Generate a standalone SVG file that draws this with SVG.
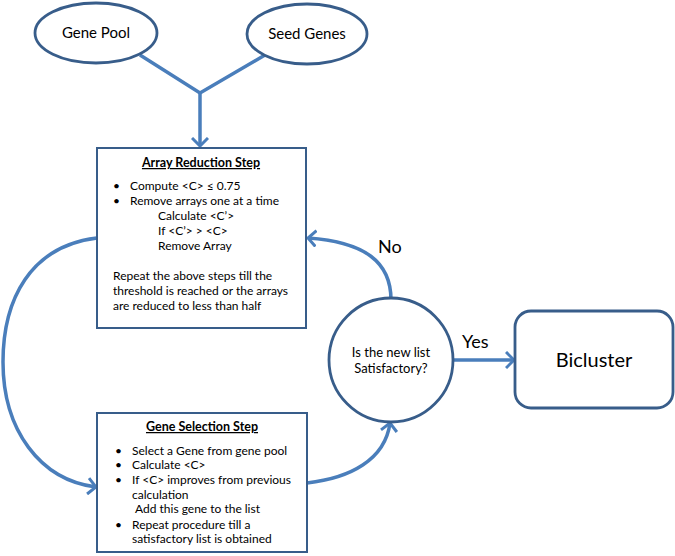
<svg xmlns="http://www.w3.org/2000/svg" width="675" height="556" viewBox="0 0 675 556">
<style>
.shape{fill:#fff;stroke:#385d8a;stroke-width:2.8}
.box{fill:#fff;stroke:#385d8a;stroke-width:2}
.conn{fill:none;stroke:#4a7ebb;stroke-width:3.5}
text{font-family:Lato,"Liberation Sans",sans-serif;fill:#000}
.body{font-size:12px}
.title{font-size:12.5px;font-weight:bold;text-decoration:underline}
.lbl{font-size:18px}
</style>
<defs>
<marker id="arr" viewBox="0 0 10 18" refX="9" refY="9" markerWidth="10" markerHeight="18" orient="auto" markerUnits="userSpaceOnUse">
<path d="M1,1 L9,9 L1,17" fill="none" stroke="#4a7ebb" stroke-width="3"/>
</marker>
</defs>
<rect width="675" height="556" fill="#fff"/>
<g id="connectors">
<path class="conn" d="M140,55 L200,93 L265,55"/>
<path class="conn" d="M200,93 L200,146" marker-end="url(#arr)"/>
<path class="conn" d="M97,238 C30,246 3,300 3,362 C3,430 40,480 96,487" marker-end="url(#arr)"/>
<path class="conn" d="M307,483 C350,478 385,460 390,423" marker-end="url(#arr)"/>
<path class="conn" d="M391,300 C391,262 365,242 308,238" marker-end="url(#arr)"/>
<path class="conn" d="M453,360 L514,360" marker-end="url(#arr)"/>
</g>
<g id="gene-pool">
<ellipse class="shape" cx="96" cy="33" rx="61" ry="30"/>
<text x="96" y="38" font-size="15" text-anchor="middle">Gene Pool</text>
</g>
<g id="seed-genes">
<ellipse class="shape" cx="307" cy="34" rx="60" ry="30"/>
<text x="307" y="39" font-size="15" text-anchor="middle">Seed Genes</text>
</g>
<g id="array-reduction">
<rect class="box" x="97" y="148" width="209" height="180"/>
<text class="title" x="201" y="167" text-anchor="middle">Array Reduction Step</text>
<g class="body">
<text x="113" y="190">•</text><text x="130" y="190">Compute  &lt;C&gt;  ≤ 0.75</text>
<text x="113" y="205">•</text><text x="130" y="205">Remove arrays one at a time</text>
<text x="158" y="220">Calculate  &lt;C’&gt;</text>
<text x="158" y="235">If &lt;C’&gt; &gt;  &lt;C&gt;</text>
<text x="158" y="250">Remove Array</text>
<text x="113" y="280">Repeat the above steps till the</text>
<text x="113" y="295">threshold is reached or the arrays</text>
<text x="113" y="310">are reduced to less than half</text>
</g>
</g>
<g id="gene-selection">
<rect class="box" x="97" y="413" width="210" height="139"/>
<text class="title" x="202" y="431" text-anchor="middle">Gene Selection Step</text>
<g class="body">
<text x="115" y="455">•</text><text x="132" y="455">Select a Gene from gene pool</text>
<text x="115" y="469">•</text><text x="132" y="469">Calculate &lt;C&gt;</text>
<text x="115" y="484">•</text><text x="132" y="484">If &lt;C&gt; improves from previous</text>
<text x="132" y="499">calculation</text>
<text x="135" y="513">Add this gene to the list</text>
<text x="115" y="529">•</text><text x="132" y="529">Repeat procedure till a</text>
<text x="132" y="543">satisfactory list is obtained</text>
</g>
</g>
<g id="decision">
<circle class="shape" cx="391" cy="360" r="62"/>
<text x="391" y="357" font-size="13" text-anchor="middle">Is the new list</text>
<text x="391" y="373" font-size="13" text-anchor="middle">Satisfactory?</text>
</g>
<g id="bicluster">
<rect class="shape" x="515" y="311" width="158" height="97" rx="16"/>
<text x="594" y="367" font-size="20" text-anchor="middle">Bicluster</text>
</g>
<g id="labels">
<text class="lbl" x="378" y="253">No</text>
<text class="lbl" x="462" y="348">Yes</text>
</g>
</svg>
